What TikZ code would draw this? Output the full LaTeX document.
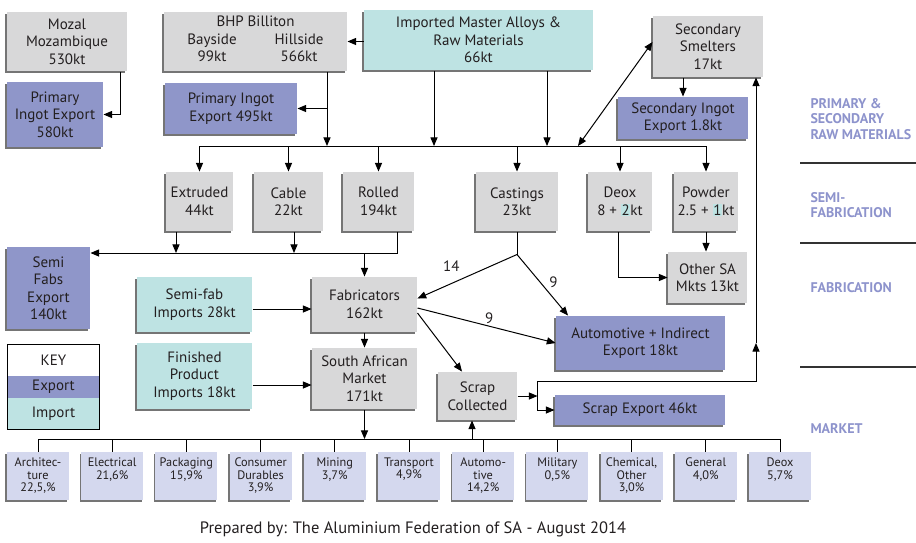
\documentclass[tikz,border=0pt]{standalone}
\usepackage{fontspec}
\setmainfont{PT Sans}
\usepackage{tikz}
\usetikzlibrary{calc}
\usetikzlibrary{arrows}
\usetikzlibrary{shadows}

\definecolor{boxgray}{HTML}{D8D8D9}
\definecolor{expblue}{HTML}{8F96C9}
\definecolor{impcyan}{HTML}{BEE3E3}
\definecolor{mktblue}{HTML}{D4D8EE}
\definecolor{lblblue}{HTML}{8D93CC}
\definecolor{txtgray}{HTML}{231F20}
\newcommand{\impnum}[1]{{\setlength{\fboxsep}{0.6pt}\colorbox{impcyan}{#1}}}

\tikzset{
  gbox/.style={fill=boxgray, inner sep=0pt, align=center, text=txtgray,
    font=\fontsize{15}{17.5}\selectfont,
    drop shadow={shadow xshift=-1.6pt, shadow yshift=-1.6pt, fill=black!60, opacity=0.9}},
  ebox/.style={gbox, fill=expblue},
  ibox/.style={gbox, fill=impcyan},
  mbox/.style={gbox, fill=mktblue, minimum width=62pt, minimum height=48pt},
  mtext/.style={align=center, inner sep=0pt, text=txtgray, font=\fontsize{12.3}{12.3}\selectfont},
  keyrow/.style={inner sep=0pt, minimum width=91pt, text=txtgray, font=\fontsize{15}{17.5}\selectfont},
  stage/.style={anchor=west, align=left, inner sep=0pt, text=lblblue, font=\fontsize{14}{15.5}\bfseries\selectfont},
  num/.style={inner sep=1pt, text=txtgray, font=\fontsize{15}{17}\selectfont}
}

\begin{document}
\begin{tikzpicture}[x=1pt, y=-1pt, >=triangle 45, line width=1pt]
\useasboundingbox (0,0) rectangle (916,542);

\node[gbox, minimum width=120pt, minimum height=59pt] (moz) at (67,41.5) {Mozal\\Mozambique\\530kt};
\node[ebox, minimum width=96pt, minimum height=65pt] (pie1) at (55,114.5) {Primary\\Ingot Export\\580kt};
\node[gbox, minimum width=183pt, minimum height=59pt] (bhp) at (255.5,41.5) {BHP Billiton\\\begin{tabular}[t]{@{}c@{\hspace{38pt}}c@{}}Bayside & Hillside\\99kt & 566kt\end{tabular}};
\node[ebox, minimum width=132pt, minimum height=51pt] (pie2) at (231,108.5) {Primary Ingot\\Export 495kt};
\node[ibox, minimum width=229pt, minimum height=60pt] (imp) at (478.5,40) {Imported Master Alloys \&\\Raw Materials\\66kt};
\node[gbox, minimum width=110pt, minimum height=61pt] (sec) at (708,46.5) {Secondary\\Smelters\\17kt};
\node[ebox, minimum width=130pt, minimum height=42pt] (sie) at (683,118) {Secondary Ingot\\Export 1.8kt};

\node[gbox, minimum width=67pt, minimum height=59pt] (ext) at (199.5,201.5) {Extruded\\44kt};
\node[gbox, minimum width=69pt, minimum height=59pt] (cab) at (288.5,201.5) {Cable\\22kt};
\node[gbox, minimum width=71pt, minimum height=59pt] (rol) at (378.5,201.5) {Rolled\\194kt};
\node[gbox, minimum width=82pt, minimum height=59pt] (cas) at (517,201.5) {Castings\\23kt};
\node[gbox, minimum width=64pt, minimum height=59pt] (deo) at (620,201.5) {Deox\\8 + \impnum{2}kt};
\node[gbox, minimum width=64pt, minimum height=59pt] (pow) at (706,201.5) {Powder\\2.5 + \impnum{1}kt};

\node[ebox, minimum width=83pt, minimum height=82pt] (sfe) at (48.5,288) {Semi\\Fabs\\Export\\140kt};
\node[ibox, minimum width=115pt, minimum height=55pt] (sfi) at (194.5,304.5) {Semi-fab\\Imports 28kt};
\node[gbox, minimum width=105pt, minimum height=55pt] (fab) at (364.5,304.5) {Fabricators\\162kt};
\node[ibox, minimum width=115pt, minimum height=66pt] (fpi) at (194.5,376) {Finished\\Product\\Imports 18kt};
\node[gbox, minimum width=105pt, minimum height=61pt] (sam) at (364.5,378.5) {South African\\Market\\171kt};
\node[gbox, minimum width=79pt, minimum height=51pt] (osa) at (707.5,277.5) {Other SA\\Mkts 13kt};
\node[ebox, minimum width=169pt, minimum height=54pt] (aie) at (640.5,343) {Automotive + Indirect\\Export 18kt};
\node[gbox, minimum width=79pt, minimum height=48pt] (scc) at (477.5,396) {Scrap\\Collected};
\node[ebox, minimum width=170pt, minimum height=30pt] (sex) at (640,410) {Scrap Export 46kt};

\node[keyrow, fill=white, minimum height=31pt] (keyt) at (53.5,360.5) {KEY};
\node[keyrow, fill=expblue, minimum height=22pt] (keye) at (53.5,387) {Export};
\node[keyrow, fill=impcyan, minimum height=31pt] (keyi) at (53.5,413.5) {Import};
\draw (keyt.north west) rectangle (keyi.south east);

\node[stage] (lraw) at (810,119) {PRIMARY \&\\SECONDARY\\RAW MATERIALS};
\node[stage] (lsemi) at (810,205) {SEMI-\\FABRICATION};
\node[stage] (lfab) at (810,288) {FABRICATION};
\node[stage] (lmkt) at (810,429) {MARKET};
\foreach \y in {163,243,367}
  \draw[black!80, line width=1.2pt] (800,\y) -- (916,\y);

\node[text=txtgray, font=\fontsize{16.5}{19}\selectfont] (foot) at (413,529) {Prepared by: The Aluminium Federation of SA - August 2014};

\coordinate (mbus) at (0,439);
\foreach \lbl [count=\i from 0] in {{Architec-\\ture\\22,5,\%}, {Electrical\\21,6\%}, {Packaging\\15,9\%}, {Consumer\\Durables\\3,9\%}, {Mining\\3,7\%}, {Transport\\4,9\%}, {Automo-\\tive\\14,2\%}, {Military\\0,5\%}, {Chemical,\\Other\\3,0\%}, {General\\4,0\%}, {Deox\\5,7\%}}{
  \node[mbox] (m\i) at (38+74.2*\i,476) {};
  \node[mtext, anchor=north] (t\i) at ([yshift=-6pt]m\i.north) {\lbl};
  \draw (m\i.north |- mbus) -- (m\i.north);
}
\draw (m0.north |- mbus) -- (m10.north |- mbus);

\draw[->] ([xshift=53pt]moz.south) |- (pie1);
\draw[->] (imp.west |- bhp) -- (bhp.east);
\coordinate (bus) at (0,146);
\draw (ext.north |- bus) -- (pow.north |- bus);
\foreach \n in {ext,cab,rol,cas,deo,pow}
  \draw[->] (\n.north |- bus) -- (\n.north);
\coordinate (bo) at ([xshift=71.5pt]bhp.south);
\draw[->] (bo) -- (bo |- bus);
\draw[->] (bo |- pie2) -- (pie2.east);
\coordinate (io1) at ([xshift=-44.5pt]imp.south);
\coordinate (io2) at ([xshift=68.5pt]imp.south);
\draw[->] (io1) -- (io1 |- bus);
\draw[->] (io2) -- (io2 |- bus);
\coordinate (sb) at (578,146);
\draw[<->] (sb) -- ([yshift=4.5pt]sec.west);
\draw[->] (sec.south -| sie) -- (sie.north);

\coordinate (sbus) at (0,253);
\coordinate (eo) at ([xshift=-23.5pt]ext.south);
\coordinate (co) at ([xshift=5.5pt]cab.south);
\coordinate (ro) at ([xshift=18.5pt]rol.south);
\draw[->] (eo) -- (eo |- sbus);
\draw[->] (co) -- (co |- sbus);
\draw[->] (ro) |- (sfe.east |- sbus);
\draw[->] (fab.north |- sbus) -- (fab);

\draw[->] ([yshift=-4.5pt]sfi.east) -- ([yshift=-4.5pt]fab.west);
\draw[->] ([yshift=-9pt]fpi.east) -- ([yshift=-9pt]fpi.east -| sam.west);
\draw[->] (fab) -- (sam);
\draw[->] (sam) -- (sam.south |- mbus);

\coordinate (cs) at ([yshift=-23pt]cas.south);
\draw (cas) -- (cs);
\draw[->] (cs) -- node[num, pos=0.66, above=11pt] {14} ([yshift=6pt]fab.east);
\draw[->] (cs) -- node[num, pos=0.45, right=8pt] {9} ([xshift=-72.5pt]aie.north);
\draw[->] ([yshift=-3.5pt]fab.east) -- node[num, pos=0.52, above=1pt] {9} (aie.west);
\draw[->] ([yshift=-8.5pt]fab.east) -- ([xshift=-15.5pt]scc.north);

\coordinate (sj) at ([xshift=20pt]scc.east);
\draw[->] (scc.east) -- (sj);
\coordinate (st) at (537.5,381);
\coordinate (sr) at (756,381);
\draw[->] (st) |- (sex.west);
\draw[->] (st) -- (sr) -- (sr |- aie);
\draw[->] (sr |- aie) -- (sr |- sec.south);
\coordinate (sc) at ([xshift=-5.5pt]scc.south);
\draw[->] (sc |- mbus) -- (sc);

\draw[->] ([xshift=-2pt]deo.south) |- (osa);
\draw[->] (pow.south) -- (pow.south |- osa.north);
\end{tikzpicture}
\end{document}
